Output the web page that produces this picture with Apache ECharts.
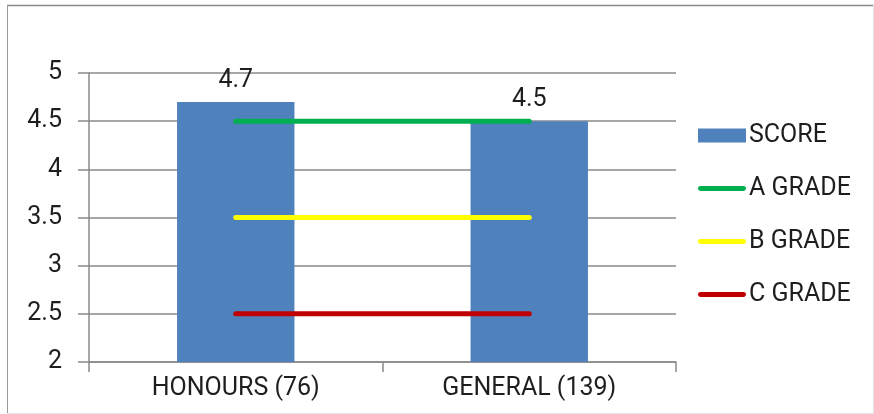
<!DOCTYPE html>
<html>
<head>
<meta charset="utf-8">
<script src="https://cdn.jsdelivr.net/npm/echarts@6/dist/echarts.min.js"></script>
<style>
  html, body { margin: 0; padding: 0; background: #fff; }
  #chart { width: 874px; height: 414px; }
</style>
</head>
<body>
<div id="chart"></div>
<script>
// Programme groups and their mean scores
const categories = ['HONOURS (76)', 'GENERAL (139)'];
const scores = [4.7, 4.5];

// Grade thresholds drawn across both groups
const gradeA = [4.5, 4.5];
const gradeB = [3.5, 3.5];
const gradeC = [2.5, 2.5];

const yMin = 2, yMax = 5, yStep = 0.5;

const font = 'Roboto, "Liberation Sans", sans-serif';
const fontSize = 25;
const textColor = '#1e1e1e';
const gridColor = '#8a8a8a';

// thin bar used as the legend marker for the grade lines
const lineIcon = 'path://M2,0 L46,0 A2.5,2.5 0 0 1 46,5 L2,5 A2.5,2.5 0 0 1 2,0 Z';

const chart = echarts.init(document.getElementById('chart'), null, { renderer: 'canvas' });

function gradeSeries(name, data, color) {
  return {
    name: name,
    type: 'line',
    data: data,
    symbol: 'none',
    lineStyle: { color: color, width: 5, cap: 'round' },
    itemStyle: { color: color },
    z: 3,
    silent: true
  };
}

chart.setOption({
  animation: false,
  backgroundColor: '#fff',
  textStyle: { fontFamily: font },
  graphic: [
    { type: 'line', shape: { x1: 7, y1: 5.5, x2: 874, y2: 5.5 }, style: { stroke: '#8a8a8a', lineWidth: 1.5 } },
    { type: 'line', shape: { x1: 7.5, y1: 5, x2: 7.5, y2: 413 }, style: { stroke: '#9a9a9a', lineWidth: 1 } },
    { type: 'line', shape: { x1: 873.5, y1: 5, x2: 873.5, y2: 413 }, style: { stroke: '#e4e4e4', lineWidth: 1 } },
    { type: 'line', shape: { x1: 7, y1: 413.5, x2: 874, y2: 413.5 }, style: { stroke: '#e4e4e4', lineWidth: 1 } }
  ],
  grid: { left: 89, right: 198, top: 73, bottom: 52, containLabel: false },
  legend: {
    orient: 'vertical',
    left: 693,
    top: 118,
    itemWidth: 48,
    itemHeight: 14,
    itemGap: 28,
    textStyle: { color: textColor, fontSize: fontSize, fontFamily: font, lineHeight: 25, padding: [0, 0, 0, -2] },
    data: [
      { name: 'SCORE', icon: 'rect' },
      { name: 'A GRADE', icon: lineIcon },
      { name: 'B GRADE', icon: lineIcon },
      { name: 'C GRADE', icon: lineIcon }
    ]
  },
  xAxis: {
    type: 'category',
    data: categories,
    boundaryGap: true,
    axisLine: { show: true, lineStyle: { color: gridColor, width: 1.5 } },
    axisTick: { show: true, length: 10, inside: false, lineStyle: { color: gridColor, width: 1.5 } },
    axisLabel: { color: textColor, fontSize: fontSize, margin: 14, fontFamily: font }
  },
  yAxis: {
    type: 'value',
    min: yMin,
    max: yMax,
    interval: yStep,
    axisLine: { show: true, lineStyle: { color: gridColor, width: 1.5 } },
    axisTick: { show: true, length: 11, lineStyle: { color: gridColor, width: 1.5 } },
    axisLabel: { color: textColor, fontSize: fontSize, margin: 27, fontFamily: font },
    splitLine: { show: true, lineStyle: { color: gridColor, width: 1.5 } }
  },
  series: [
    {
      name: 'SCORE',
      type: 'bar',
      data: scores,
      barCategoryGap: '60%',
      itemStyle: { color: '#4f81bd' },
      label: {
        show: true,
        position: 'top',
        distance: 9,
        color: textColor,
        fontSize: fontSize,
        fontFamily: font
      },
      z: 2
    },
    gradeSeries('A GRADE', gradeA, '#00b050'),
    gradeSeries('B GRADE', gradeB, '#ffff00'),
    gradeSeries('C GRADE', gradeC, '#c00000')
  ]
});
</script>
</body>
</html>
